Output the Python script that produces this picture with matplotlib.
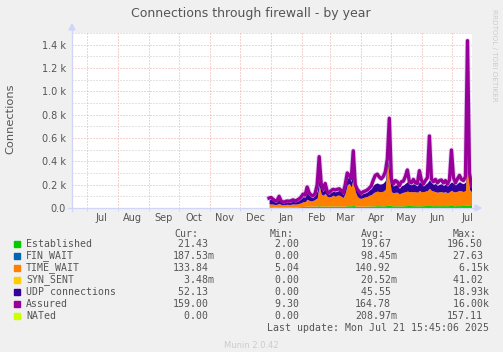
import matplotlib
matplotlib.use('Agg')
import matplotlib.pyplot as plt
import matplotlib.dates as mdates
from matplotlib.ticker import MultipleLocator, FuncFormatter
from matplotlib.patches import Rectangle, Polygon
from matplotlib.lines import Line2D
import numpy as np
import pandas as pd

W, H = 503, 352

# data, one sample every two days (yearly averages)
dates = pd.date_range('2024-12-30', periods=102, freq='2D')

established = [10, 10, 9, 8, 9, 10, 8, 8, 9, 9, 8, 9, 10, 9, 10, 11, 12,
               14, 14, 16, 15, 15, 16, 16, 17, 20, 16, 16, 17, 16, 16, 17, 17, 16, 17, 17, 16,
               15, 17, 19, 20, 19, 22, 18, 16, 15, 15, 16, 16, 17, 17, 18, 18, 19, 20, 20, 19,
               19, 20, 21, 24, 20, 19, 19, 19, 18, 19, 19, 20, 21, 22, 20, 20, 20, 19, 19, 20,
               20, 21, 21, 22, 20, 20, 21, 20, 20, 20, 21, 20, 20, 21, 22, 20, 20, 21, 20, 21,
               22, 22, 24, 21, 21]

time_wait = [25, 25, 24, 22, 23, 30, 22, 20, 21, 23, 22, 23, 25, 24, 25, 29, 33,
             41, 41, 59, 50, 45, 49, 59, 68, 177, 104, 94, 109, 84, 79, 83, 93, 84, 93, 93, 84,
             75, 113, 181, 190, 161, 238, 122, 84, 70, 68, 74, 79, 83, 93, 97, 112, 121, 125, 120, 121,
             126, 140, 379, 236, 120, 111, 116, 116, 102, 111, 116, 120, 124, 118, 120, 120, 120, 116,
             131, 120, 120, 124, 129, 148, 130, 125, 119, 115, 120, 120, 114, 120, 110, 119, 130, 120,
             119, 123, 130, 125, 119, 130, 579, 138, 118]

udp = [35, 40, 30, 20, 22, 40, 20, 14, 16, 18, 18, 20, 24, 18, 22, 26, 34,
       42, 38, 60, 42, 34, 26, 34, 60, 50, 50, 32, 52, 26, 22, 34, 34, 38, 34, 40, 34,
       26, 46, 60, 46, 48, 60, 42, 44, 38, 28, 36, 34, 38, 44, 52, 66, 70, 70, 66, 66,
       70, 76, 12, 70, 70, 58, 64, 62, 48, 60, 62, 72, 80, 64, 58, 68, 58, 54,
       76, 68, 48, 58, 68, 72, 68, 58, 70, 58, 64, 68, 58, 64, 58, 68, 72, 72,
       58, 68, 76, 68, 68, 72, 80, 76, 34]

assured = [85, 90, 75, 62, 65, 100, 60, 50, 55, 60, 58, 62, 70, 60, 68, 78, 95,
           120, 110, 180, 130, 110, 105, 125, 200, 440, 210, 160, 210, 140, 130, 150, 160, 154, 160, 165, 150,
           130, 200, 300, 280, 250, 490, 200, 160, 140, 125, 140, 145, 155, 170, 190, 240, 280, 290, 265, 250,
           270, 310, 420, 769, 250, 205, 235, 225, 190, 225, 230, 270, 326, 225, 215, 245, 215, 210,
           320, 240, 205, 235, 260, 617, 250, 225, 245, 215, 235, 240, 215, 235, 205, 240, 497, 260,
           215, 250, 280, 245, 235, 270, 1434, 300, 190]

labels = ['Established', 'FIN_WAIT', 'TIME_WAIT', 'SYN_SENT', 'UDP connections', 'Assured', 'NATed']
colors = ['#00CC00', '#0066B3', '#FF8000', '#FFCC00', '#330099', '#990099', '#CCFF00']
cur = [(21.43, ''), (187.53, 'm'), (133.84, ''), (3.48, 'm'), (52.13, ''), (159.00, ''), (0.00, '')]
vmin = [(2.00, ''), (0.00, ''), (5.04, ''), (0.00, ''), (0.00, ''), (9.30, ''), (0.00, '')]
avg = [(19.67, ''), (98.45, 'm'), (140.92, ''), (20.52, 'm'), (45.55, ''), (164.78, ''), (208.97, 'm')]
vmax = [(196.50, ''), (27.63, ''), (6.15, 'k'), (41.02, ''), (18.93, 'k'), (16.00, 'k'), (157.11, '')]

font_col = '#555555'
axis_col = '#CFD6F8'


def px(x, y):
    return x / W, 1 - y / H


fig = plt.figure(figsize=(W / 100, H / 100), dpi=100, facecolor='#F0F0F0')
ax = fig.add_axes([72 / W, (H - 208) / H, 400 / W, 175 / H], facecolor='white')

# stacked areas, then the assured line (with its pale halo)
base = np.zeros(len(dates))
for vals, col in [(established, colors[0]), (time_wait, colors[2]), (udp, colors[4])]:
    top = base + np.array(vals)
    ax.fill_between(dates, base, top, color=col, linewidth=0, zorder=3)
    base = top
ax.plot(dates, assured, color='#DCCDF0', linewidth=3.6, zorder=2.5)
ax.plot(dates, assured, color=colors[5], linewidth=2.4, zorder=4)

# limits
ax.set_xlim(pd.Timestamp('2024-06-16 08:00'), pd.Timestamp('2025-07-20 12:00'))
ax.set_ylim(0, 1500)

# grid
dots = (0, (1, 2))
ax.xaxis.set_major_locator(mdates.MonthLocator(bymonthday=1))
ax.xaxis.set_major_formatter(plt.NullFormatter())
ax.xaxis.set_minor_locator(mdates.MonthLocator(bymonthday=16))
ax.xaxis.set_minor_formatter(mdates.DateFormatter('%b'))
ax.yaxis.set_major_locator(MultipleLocator(200))
ax.yaxis.set_minor_locator(MultipleLocator(100))
ax.yaxis.set_major_formatter(FuncFormatter(lambda v, p: '0.0' if v == 0 else '%.1f k' % (v / 1000)))
ax.grid(which='major', axis='both', color='#EEA7A7', linestyle=dots, linewidth=0.72)
ax.grid(which='minor', axis='y', color='#C8C8C8', linestyle=dots, linewidth=0.72)
ax.set_axisbelow(True)

ax.tick_params(axis='x', which='major', length=2, color=axis_col, width=0.72)
ax.tick_params(axis='x', which='minor', length=0, pad=3.5, labelsize=7, labelcolor=font_col)
ax.tick_params(axis='y', which='both', length=0, pad=4.5, labelsize=7, labelcolor=font_col)
for s in ax.spines.values():
    s.set_visible(False)

# axis lines with arrows
fig.add_artist(Line2D([px(72, 0)[0]] * 2, [px(0, 211)[1], px(0, 30)[1]], color=axis_col, linewidth=0.9))
fig.add_artist(Line2D([px(68, 0)[0], px(475, 0)[0]], [px(0, 208)[1]] * 2, color=axis_col, linewidth=0.9))
fig.add_artist(Polygon([px(69, 30), px(75, 30), px(72, 24)], closed=True, color=axis_col, transform=fig.transFigure))
fig.add_artist(Polygon([px(475, 205), px(475, 211), px(481, 208)], closed=True, color=axis_col, transform=fig.transFigure))

# text
fig.text(*px(251, 13.5), 'Connections through firewall - by year', ha='center', va='center',
         fontsize=9, color=font_col)
fig.text(*px(10.5, 119), 'Connections', rotation=90, ha='center', va='center', fontsize=8.2, color=font_col)
fig.text(*px(494, 55), 'RRDTOOL / TOBI OETIKER', rotation=270, ha='center', va='center',
         fontsize=5.2, color='#CCCCCC')
fig.text(*px(251, 345), 'Munin 2.0.42', ha='center', va='center', fontsize=6, color='#CCCCCC')

# legend
mono = dict(family='DejaVu Sans Mono', fontsize=7.15, color=font_col, va='center')
fig.text(*px(174, 233.7), 'Cur:', **mono)
fig.text(*px(269.5, 233.7), 'Min:', **mono)
fig.text(*px(361, 233.7), 'Avg:', **mono)
fig.text(*px(453, 233.7), 'Max:', **mono)
for i, lab in enumerate(labels):
    y = 243.7 + 12 * i
    fig.add_artist(Rectangle(px(14, y + 3), 6 / W, 6 / H, color=colors[i], transform=fig.transFigure))
    fig.text(*px(26, y), lab, **mono)
    for x0, (v, u) in [(172.5, cur[i]), (263.2, vmin[i]), (355, avg[i]), (447, vmax[i])]:
        fig.text(*px(x0, y), '%6.2f%s' % (v, u), **mono)
fig.text(*px(267.3, 327.7), 'Last update: Mon Jul 21 15:45:06 2025', **mono)

fig.savefig('out.png', dpi=100, facecolor=fig.get_facecolor())
